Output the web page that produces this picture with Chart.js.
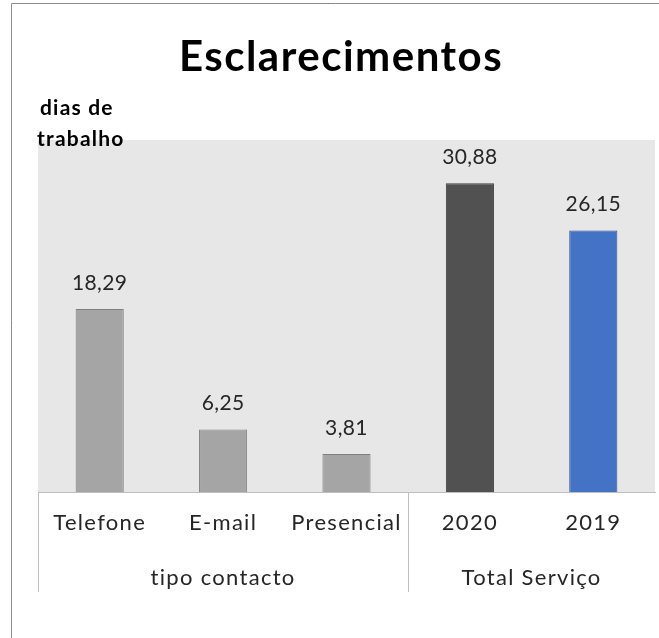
<!DOCTYPE html>
<html>
<head>
    <meta charset="utf-8">
    <title>Esclarecimentos</title>
    <style>
        body { margin: 0; background: #fff; }
        #wrap { width: 659px; height: 638px; position: relative; }
    </style>
</head>
<body>
    <div id="wrap"><canvas id="grafico"></canvas></div>

    <script src="https://cdn.jsdelivr.net/npm/chart.js@4.4.1/dist/chart.umd.min.js"></script>
    <script>
        // dados do grafico
        var categorias = ['Telefone', 'E-mail', 'Presencial', '2020', '2019'];
        var valores = [18.29, 6.25, 3.81, 30.88, 26.15];
        var grupos = ['tipo contacto', 'Total Serviço'];
        var tamanhoGrupos = [3, 2];
        var titulo = 'Esclarecimentos';
        var eixoY = ['dias de', 'trabalho'];

        var cores = ['#a5a5a5', '#a5a5a5', '#a5a5a5', '#515151', '#4472c4'];
        var bordas = ['#7f7f7f', '#7f7f7f', '#7f7f7f', '#404040', '#2f528f'];
        var fonte = 'Lato, "Open Sans", sans-serif';
        var linha = '#bfbfbf';

        var virgula = function(v){
            return v.toFixed(2).replace('.', ',');
        };

        var extras = {
            id: 'extras',
            beforeDraw: function(chart){
                var c = chart.ctx, a = chart.chartArea;
                c.save();
                c.fillStyle = '#fff';
                c.fillRect(0, 0, chart.width, chart.height);
                // moldura
                c.strokeStyle = '#8c8c8c';
                c.lineWidth = 1;
                c.beginPath();
                c.moveTo(11.5, chart.height);
                c.lineTo(11.5, 3.5);
                c.lineTo(chart.width, 3.5);
                c.stroke();
                // fundo da area
                c.fillStyle = '#e7e7e7';
                c.fillRect(a.left, a.top, a.right - a.left, a.bottom - a.top);
                c.restore();
                // espacamento das letras dos rotulos do eixo x
                c.letterSpacing = '1.3px';
            },
            beforeDatasetsDraw: function(chart){
                chart.ctx.letterSpacing = '0px';
            },
            afterDatasetsDraw: function(chart){
                var c = chart.ctx;
                c.save();
                c.font = '21px ' + fonte;
                c.fillStyle = '#262626';
                c.textAlign = 'center';
                c.textBaseline = 'middle';
                c.letterSpacing = '0.4px';
                chart.getDatasetMeta(0).data.forEach(function(bar, i){
                    c.fillText(virgula(valores[i]), bar.x, bar.y - 26);
                });
                c.restore();
                c.letterSpacing = '0px';
            },
            afterDraw: function(chart){
                var c = chart.ctx, a = chart.chartArea, x = chart.scales.x;
                c.save();
                // titulo
                c.fillStyle = '#000';
                c.textAlign = 'center';
                c.textBaseline = 'middle';
                c.letterSpacing = '1.5px';
                c.font = 'bold 42px ' + fonte;
                c.fillText(titulo, 341, 57);
                // titulo eixo y
                c.textAlign = 'left';
                c.letterSpacing = '1.2px';
                c.font = 'bold 21px ' + fonte;
                c.fillText(eixoY[0], 40, 108);
                c.fillText(eixoY[1], 37, 139);
                // separadores dos grupos
                c.textAlign = 'center';
                c.letterSpacing = '1.3px';
                c.strokeStyle = linha;
                c.lineWidth = 1;
                var inicio = 0;
                var bordasX = [a.left];
                tamanhoGrupos.forEach(function(n, g){
                    var fim = inicio + n - 1;
                    var esq = inicio === 0 ? a.left : (x.getPixelForValue(inicio - 1) + x.getPixelForValue(inicio)) / 2;
                    var dir = g === tamanhoGrupos.length - 1 ? a.right : (x.getPixelForValue(fim) + x.getPixelForValue(fim + 1)) / 2;
                    if (g < tamanhoGrupos.length - 1) bordasX.push(dir);
                    c.font = '22px ' + fonte;
                    c.fillStyle = '#262626';
                    c.fillText(grupos[g], (esq + dir) / 2, 578);
                    inicio += n;
                });
                bordasX.forEach(function(px){
                    px = Math.round(px) + 0.5;
                    c.beginPath();
                    c.moveTo(px, a.bottom);
                    c.lineTo(px, 592);
                    c.stroke();
                });
                c.restore();
                c.letterSpacing = '0px';
            }
        };

        var ctx = document.getElementById('grafico');
        var grafico = new Chart(ctx, {
            type: 'bar',
            data: {
                labels: categorias,
                datasets: [{
                    data: valores,
                    backgroundColor: cores,
                    borderColor: bordas,
                    borderWidth: 1,
                    barPercentage: 0.39,
                    categoryPercentage: 1
                }]
            },
            options: {
                responsive: true,
                maintainAspectRatio: false,
                animation: false,
                layout: { padding: { left: 38, right: 4, top: 140, bottom: 0 } },
                plugins: {
                    legend: { display: false },
                    tooltip: { enabled: false }
                },
                scales: {
                    y: { display: false, min: 0, max: 35.2 },
                    x: {
                        grid: { display: false, drawTicks: false },
                        border: { display: true, color: linha, width: 1 },
                        ticks: { color: '#262626', font: { family: fonte, size: 22 }, padding: 18, maxRotation: 0, autoSkip: false },
                        afterFit: function(scale){ scale.height = 146; }
                    }
                }
            },
            plugins: [extras]
        });
    </script>
</body>
</html>
